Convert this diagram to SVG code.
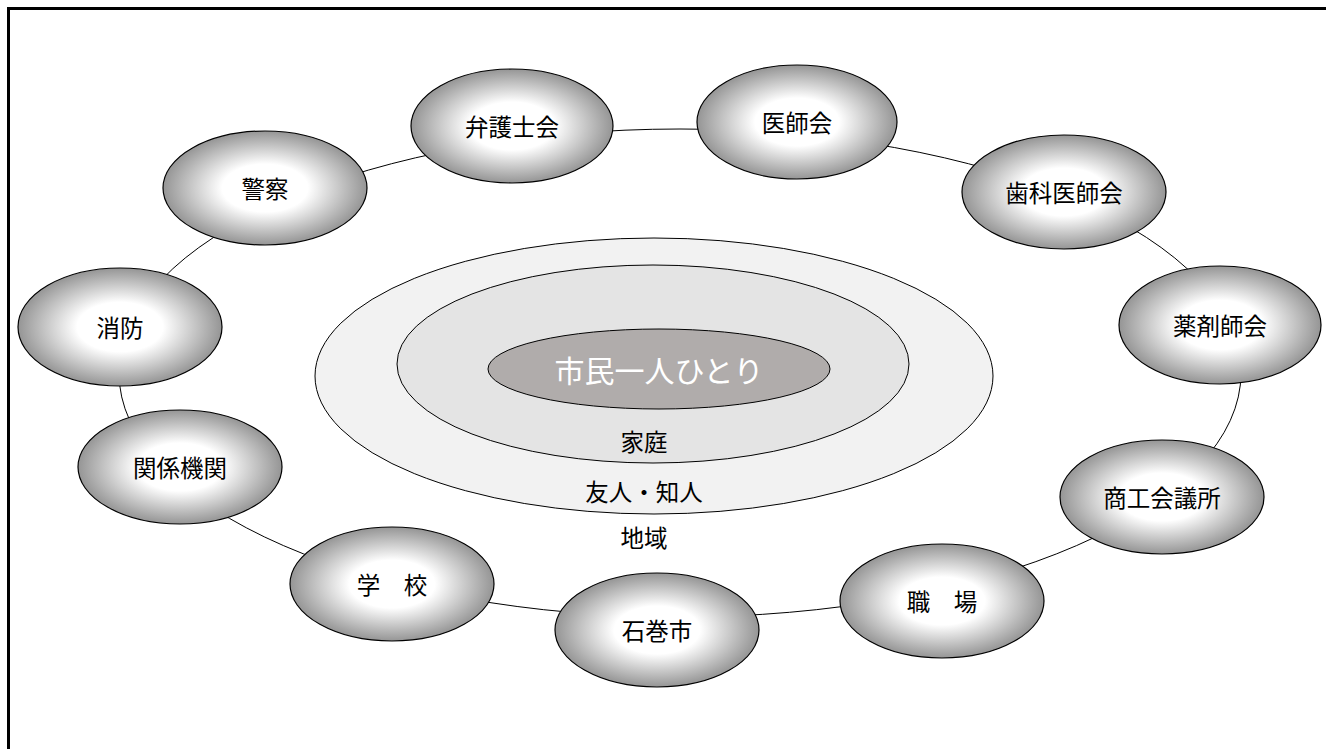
<svg xmlns="http://www.w3.org/2000/svg" width="1326" height="749" viewBox="0 0 1326 749">
<defs>
<radialGradient id="g" cx="50%" cy="50%" r="50%">
<stop offset="0" stop-color="#ffffff"/>
<stop offset="0.42" stop-color="#ffffff"/>
<stop offset="1" stop-color="#959595"/>
</radialGradient>
<style>
.n{fill:url(#g);stroke:#000;stroke-width:1.2}
.t{font-family:"Noto Sans CJK JP","Noto Sans",sans-serif;font-size:23.5px;fill:#000;text-anchor:middle;dominant-baseline:central}
.c{fill:none;stroke:#000;stroke-width:1}
</style>
</defs>
<rect x="0" y="0" width="1326" height="749" fill="#fff"/>
<rect x="8.5" y="8.5" width="1340" height="770" fill="none" stroke="#000" stroke-width="3"/>
<g id="connectors">
<ellipse class="c" cx="680" cy="373" rx="561" ry="244"/>
</g>
<g id="center">
<ellipse cx="654" cy="376" rx="339" ry="138" fill="#f2f2f2" stroke="#000" stroke-width="1"/>
<ellipse cx="653" cy="364" rx="256" ry="99" fill="#e4e4e4" stroke="#000" stroke-width="1"/>
<ellipse cx="659" cy="369" rx="171" ry="40" fill="#b0acab" stroke="#000" stroke-width="1"/>
<text class="t" x="659" y="369" style="fill:#fff;font-size:30px">市民一人ひとり</text>
<text class="t" x="644" y="441">家庭</text>
<text class="t" x="644" y="491">友人・知人</text>
<text class="t" x="644" y="537">地域</text>
</g>
<g id="n-bengoshikai"><ellipse class="n" cx="512" cy="126" rx="101" ry="57"/><text class="t" x="512" y="126">弁護士会</text></g>
<g id="n-ishikai"><ellipse class="n" cx="797" cy="122" rx="100" ry="57"/><text class="t" x="797" y="122">医師会</text></g>
<g id="n-shika"><ellipse class="n" cx="1064" cy="192" rx="102" ry="57"/><text class="t" x="1064" y="192">歯科医師会</text></g>
<g id="n-yakuzai"><ellipse class="n" cx="1220" cy="325" rx="101" ry="59"/><text class="t" x="1220" y="325">薬剤師会</text></g>
<g id="n-shoko"><ellipse class="n" cx="1162" cy="497" rx="102" ry="57"/><text class="t" x="1162" y="497">商工会議所</text></g>
<g id="n-shokuba"><ellipse class="n" cx="942" cy="601" rx="102" ry="57"/><text class="t" x="942" y="601">職　場</text></g>
<g id="n-ishinomaki"><ellipse class="n" cx="657" cy="630" rx="102" ry="57"/><text class="t" x="657" y="630">石巻市</text></g>
<g id="n-gakko"><ellipse class="n" cx="392" cy="584" rx="102" ry="57"/><text class="t" x="392" y="584">学　校</text></g>
<g id="n-kankei"><ellipse class="n" cx="180" cy="467" rx="102" ry="57"/><text class="t" x="180" y="467">関係機関</text></g>
<g id="n-shobo"><ellipse class="n" cx="120" cy="327" rx="102" ry="59"/><text class="t" x="120" y="327">消防</text></g>
<g id="n-keisatsu"><ellipse class="n" cx="265" cy="188" rx="102" ry="57"/><text class="t" x="265" y="188">警察</text></g>
</svg>
